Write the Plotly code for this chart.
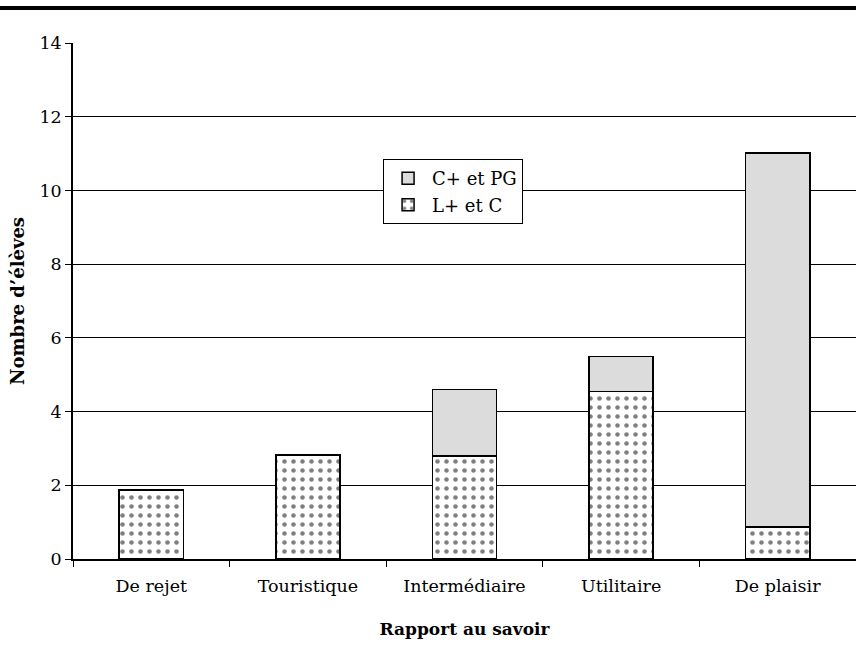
import plotly.graph_objects as go

categories = ["De rejet", "Touristique", "Intermédiaire", "Utilitaire", "De plaisir"]
l_plus_c = [1.87, 2.82, 2.8, 4.55, 0.87]
c_plus_pg = [0, 0, 1.8, 0.95, 10.15]
y_ticks = [0, 2, 4, 6, 8, 10, 12, 14]

FONT = "DejaVu Serif"

fig = go.Figure()
fig.add_trace(go.Bar(
    x=categories, y=l_plus_c, name="L+ et C",
    marker=dict(color="white", line=dict(color="black", width=1.5),
                pattern=dict(shape=".", fgcolor="black", bgcolor="white",
                             size=9, solidity=0.2, fillmode="overlay")),
))
fig.add_trace(go.Bar(
    x=categories, y=c_plus_pg, name="C+ et PG",
    marker=dict(color="#dcdcdc", line=dict(color="black", width=1.5)),
))

fig.update_layout(
    width=856, height=664,
    barmode="stack", bargap=0.59,
    paper_bgcolor="white", plot_bgcolor="white",
    margin=dict(l=73, r=0, t=43, b=105, autoexpand=False),
    font=dict(family=FONT, size=17.5, color="black"),
    showlegend=True,
    legend=dict(x=0.396, y=0.775, xanchor="left", yanchor="top",
                bgcolor="white", bordercolor="black", borderwidth=1,
                font=dict(family=FONT, size=18), traceorder="reversed",
                itemwidth=38),
    xaxis=dict(
        title=dict(text="<b>Rapport au savoir</b>", font=dict(family=FONT, size=17), standoff=28),
        showline=True, linecolor="black", linewidth=1.5,
        ticks="outside", ticklen=6, tickcolor="black", tickson="boundaries",
        ticklabelstandoff=10,
        showgrid=False, automargin=False,
    ),
    yaxis=dict(
        title=dict(text="<b>Nombre d’élèves</b>", font=dict(family=FONT, size=18), standoff=10),
        range=[0, 14], tickvals=y_ticks, ticktext=[str(v) for v in y_ticks],
        showline=True, linecolor="black", linewidth=1.5,
        ticks="outside", ticklen=6, tickcolor="black",
        showgrid=True, gridcolor="black", gridwidth=1,
        zeroline=False, automargin=False,
    ),
    shapes=[dict(type="line", xref="paper", yref="paper",
                 x0=-0.2, x1=1.1, y0=1.0678, y1=1.0678,
                 line=dict(color="black", width=4))],
)

fig.write_html("out.html", config={"displayModeBar": False},
               post_script="document.body.style.margin='0';")
